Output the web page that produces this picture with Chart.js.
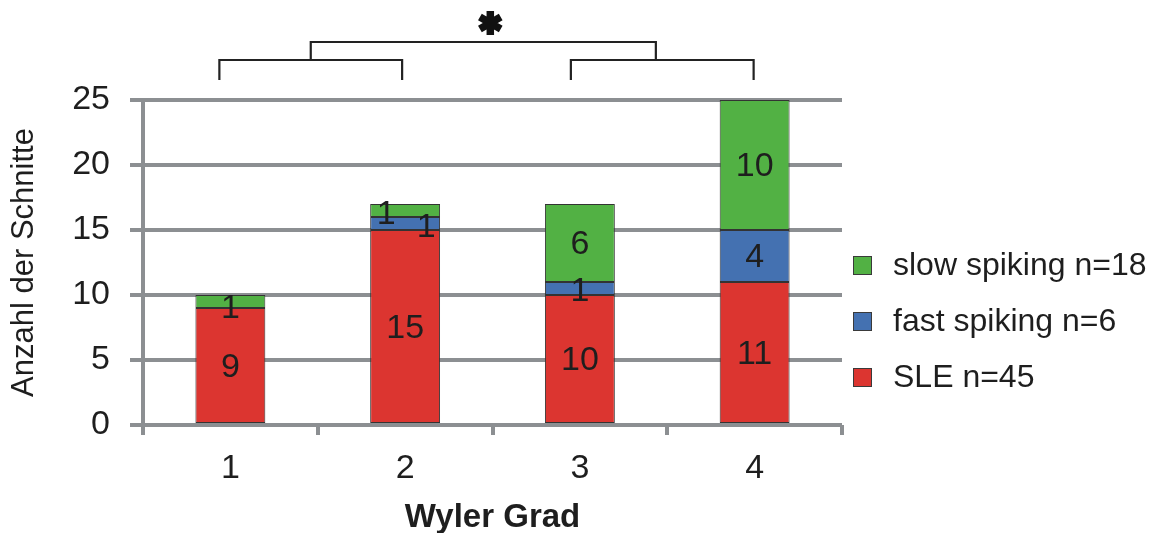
<!DOCTYPE html>
<html>
<head>
<meta charset="utf-8">
<script src="https://cdn.jsdelivr.net/npm/chart.js@4"></script>
<style>
  html, body { margin: 0; padding: 0; background: #fff; }
  #wrap { width: 1153px; height: 533px; }
</style>
</head>
<body>
<div id="wrap"><canvas id="c" width="1153" height="533"></canvas></div>
<script>
// Wyler grades and the number of slices per response type
const grades = ['1', '2', '3', '4'];
const sleCounts = [9, 15, 10, 11];
const fastCounts = [0, 1, 1, 4];
const slowCounts = [1, 1, 6, 10];
const seriesNames = ['SLE n=45', 'fast spiking n=6', 'slow spiking n=18'];
const seriesColors = ['#DC3530', '#4471B1', '#52B144'];
const yTicks = [0, 5, 10, 15, 20, 25];

const FONT = 'Liberation Sans, Arial, sans-serif';
const INK = '#1e1e1e';
const GRID = '#8C8F92';

// Nudges for labels sitting in very thin segments: key is "dataset-index"
const labelNudge = {
  '2-0': [0, 5],
  '1-1': [21, 2],
  '2-1': [-19, 2],
  '1-2': [0, 1]
};

const segmentLabels = {
  id: 'segmentLabels',
  afterDatasetsDraw(chart) {
    const ctx = chart.ctx;
    ctx.save();
    ctx.font = '34px ' + FONT;
    ctx.fillStyle = INK;
    ctx.textAlign = 'center';
    ctx.textBaseline = 'middle';
    chart.data.datasets.forEach((ds, di) => {
      const meta = chart.getDatasetMeta(di);
      meta.data.forEach((bar, i) => {
        const v = ds.data[i];
        if (!v) return;
        const n = labelNudge[di + '-' + i] || [0, 0];
        const y = (bar.y + bar.base) / 2 + 2;
        ctx.fillText(String(v), bar.x + n[0], y + n[1]);
      });
    });
    ctx.restore();
  }
};

// Significance brackets between grades 1/2 and 3/4
const brackets = {
  id: 'brackets',
  afterDraw(chart) {
    const ctx = chart.ctx;
    const xs = chart.scales.x;
    const top = chart.chartArea.top;
    const p = (i) => xs.getPixelForValue(i);
    const aL = p(0) - 11, aR = p(1) - 3;
    const bL = p(2) - 9, bR = p(3) - 1;
    const aM = (aL + aR) / 2, bM = bL + (bR - bL) * 0.465;
    const yLow = top - 20, yMid = top - 40, yTop = top - 58;
    ctx.save();
    ctx.strokeStyle = '#222';
    ctx.lineWidth = 2.2;
    ctx.lineCap = 'butt';
    ctx.beginPath();
    ctx.moveTo(aL, yLow); ctx.lineTo(aL, yMid); ctx.lineTo(aR, yMid); ctx.lineTo(aR, yLow);
    ctx.moveTo(bL, yLow); ctx.lineTo(bL, yMid); ctx.lineTo(bR, yMid); ctx.lineTo(bR, yLow);
    ctx.moveTo(aM, yMid); ctx.lineTo(aM, yTop); ctx.lineTo(bM, yTop); ctx.lineTo(bM, yMid);
    ctx.stroke();
    // asterisk
    const sx = (aM + bM) / 2 + 7, sy = top - 77;
    ctx.strokeStyle = '#111';
    ctx.lineWidth = 7.5;
    ctx.beginPath();
    [90, 30, 150].forEach((deg) => {
      const r = deg * Math.PI / 180, d = 12;
      ctx.moveTo(sx - Math.cos(r) * d, sy - Math.sin(r) * d);
      ctx.lineTo(sx + Math.cos(r) * d, sy + Math.sin(r) * d);
    });
    ctx.stroke();
    ctx.restore();
  }
};

// Legend on the right, top entry is the last stacked series
const sideLegend = {
  id: 'sideLegend',
  afterDraw(chart) {
    const ctx = chart.ctx;
    const area = chart.chartArea;
    const x0 = area.right + 11;
    const step = 56;
    const n = chart.data.datasets.length;
    const cy = (area.top + area.bottom) / 2 + 59;
    ctx.save();
    ctx.font = '32px ' + FONT;
    ctx.textAlign = 'left';
    ctx.textBaseline = 'middle';
    for (let k = 0; k < n; k++) {
      const ds = chart.data.datasets[n - 1 - k];
      const y = cy - step + k * step;
      ctx.fillStyle = ds.backgroundColor;
      ctx.fillRect(x0, y - 9.5, 19, 19);
      ctx.strokeStyle = '#3a3a3a';
      ctx.lineWidth = 1;
      ctx.strokeRect(x0 + 0.5, y - 9, 18, 18);
      ctx.fillStyle = INK;
      ctx.fillText(ds.label, x0 + 40, y + 1);
    }
    ctx.restore();
  }
};

const datasets = [sleCounts, fastCounts, slowCounts].map((vals, i) => ({
  label: seriesNames[i],
  data: vals,
  backgroundColor: seriesColors[i],
  borderColor: '#333',
  borderWidth: 1,
  borderSkipped: false,
  barPercentage: 0.4,
  categoryPercentage: 1.0
}));

new Chart(document.getElementById('c'), {
  type: 'bar',
  data: { labels: grades, datasets },
  options: {
    responsive: false,
    animation: false,
    layout: { padding: { top: 100, right: 311, left: 0, bottom: 0 } },
    plugins: { legend: { display: false }, tooltip: { enabled: false } },
    scales: {
      x: {
        stacked: true,
        afterFit(s) { s.height = 108; },
        grid: { drawOnChartArea: false, drawTicks: true, tickLength: 10, lineWidth: 4, color: GRID, offset: true },
        border: { display: false },
        ticks: { color: INK, font: { family: FONT, size: 34 }, padding: 13 },
        title: { display: true, text: 'Wyler Grad', color: INK,
                 font: { family: FONT, size: 33, weight: 'bold', lineHeight: 0.9 },
                 padding: { top: 0, bottom: 0 } }
      },
      y: {
        stacked: true,
        min: 0, max: 25,
        afterFit(s) { s.width = 143; },
        afterBuildTicks(s) { s.ticks = yTicks.map(v => ({ value: v })); },
        grid: { lineWidth: 4, color: GRID, tickLength: 13, drawTicks: true },
        border: { display: true, color: GRID, width: 4 },
        ticks: { color: INK, font: { family: FONT, size: 34 }, padding: 20 },
        title: { display: true, text: 'Anzahl der Schnitte', color: INK,
                 font: { family: FONT, size: 31, lineHeight: 1.2 },
                 padding: { top: 6, bottom: 0 } }
      }
    }
  },
  plugins: [segmentLabels, brackets, sideLegend]
});
</script>
</body>
</html>
